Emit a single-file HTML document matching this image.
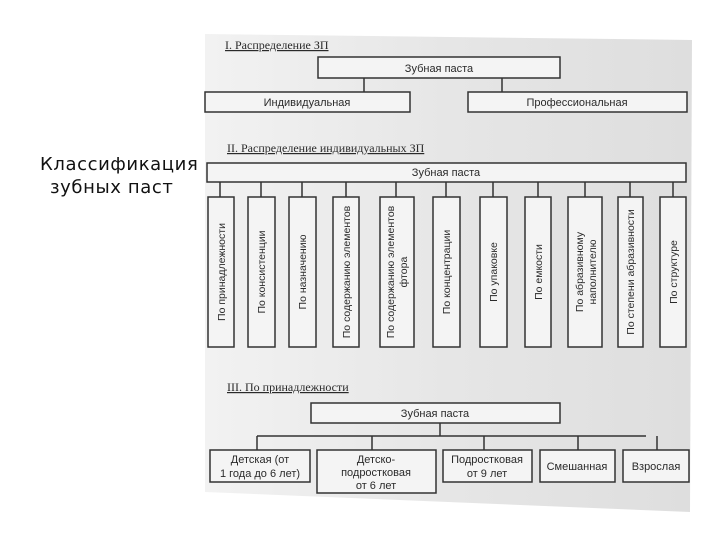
<!DOCTYPE html>
<html><head><meta charset="utf-8"><style>
html,body{margin:0;padding:0;background:#fff;}
svg{display:block}
text{font-family:"Liberation Sans",sans-serif;fill:#2a2a2a;}
.t{font-family:"Liberation Serif",serif;font-size:12px;text-decoration:underline;}
</style></head><body>
<svg width="720" height="540" viewBox="0 0 720 540" xmlns="http://www.w3.org/2000/svg">
<defs>
<linearGradient id="g" x1="0" y1="0" x2="1" y2="0">
<stop offset="0" stop-color="#f2f2f2"/><stop offset="0.5" stop-color="#e6e6e6"/><stop offset="1" stop-color="#dedede"/>
</linearGradient>
</defs>
<polygon points="205,34 692,40 690,512 205,492" fill="url(#g)"/>
<text x="40" y="170" style="font-family:'DejaVu Sans',sans-serif;font-size:18px;letter-spacing:0.6px;fill:#111">Классификация</text>
<text x="50" y="193" style="font-family:'DejaVu Sans',sans-serif;font-size:18px;letter-spacing:0.6px;fill:#111">зубных  паст</text>

<g stroke="#333" stroke-width="1.5" fill="#f4f4f4">
<rect x="318" y="57" width="242" height="21"/>
<rect x="205" y="92" width="205" height="20"/>
<rect x="468" y="92" width="219" height="20"/>
<line x1="364" y1="78" x2="364" y2="92"/>
<line x1="502" y1="78" x2="502" y2="92"/>
<rect x="207" y="163" width="479" height="19"/>
<rect x="208" y="197" width="26" height="150"/>
<rect x="248" y="197" width="27" height="150"/>
<rect x="289" y="197" width="27" height="150"/>
<rect x="333" y="197" width="26" height="150"/>
<rect x="380" y="197" width="34" height="150"/>
<rect x="433" y="197" width="27" height="150"/>
<rect x="480" y="197" width="27" height="150"/>
<rect x="525" y="197" width="26" height="150"/>
<rect x="568" y="197" width="34" height="150"/>
<rect x="618" y="197" width="25" height="150"/>
<rect x="660" y="197" width="26" height="150"/>
<path d="M220 182V197M261 182V197M302 182V197M346 182V197M396 182V197M446 182V197M493 182V197M538 182V197M585 182V197M630 182V197M673 182V197" fill="none"/>
<rect x="311" y="403" width="249" height="20"/>
<path d="M440 423V436M257 436H646M257 436V450M372 436V450M484 436V450M578 436V450M657 436V450" fill="none"/>
<rect x="210" y="450" width="100" height="32"/>
<rect x="317" y="450" width="119" height="43"/>
<rect x="443" y="450" width="89" height="32"/>
<rect x="540" y="450" width="75" height="32"/>
<rect x="623" y="450" width="66" height="32"/>
</g>

<text class="t" x="225" y="49">I. Распределение ЗП</text>
<text class="t" x="227" y="152">II. Распределение индивидуальных ЗП</text>
<text class="t" x="227" y="391">III. По принадлежности</text>

<g font-size="11" text-anchor="middle">
<text x="439" y="72">Зубная паста</text>
<text x="307" y="106">Индивидуальная</text>
<text x="577" y="106">Профессиональная</text>
<text x="446" y="176">Зубная паста</text>
<text x="435" y="417">Зубная паста</text>
<text x="260" y="463">Детская (от</text>
<text x="260" y="477">1 года до 6 лет)</text>
<text x="376" y="463">Детско-</text>
<text x="376" y="476">подростковая</text>
<text x="376" y="489">от 6 лет</text>
<text x="487" y="463">Подростковая</text>
<text x="487" y="477">от 9 лет</text>
<text x="577" y="470">Смешанная</text>
<text x="656" y="470">Взрослая</text>
</g>
<g font-size="10.5" text-anchor="middle">
<text transform="translate(225,272) rotate(-90)">По принадлежности</text>
<text transform="translate(265,272) rotate(-90)">По консистенции</text>
<text transform="translate(306,272) rotate(-90)">По назначению</text>
<text transform="translate(350,272) rotate(-90)">По содержанию элементов</text>
<text transform="translate(394,272) rotate(-90)">По содержанию элементов</text>
<text transform="translate(407,272) rotate(-90)">фтора</text>
<text transform="translate(450,272) rotate(-90)">По концентрации</text>
<text transform="translate(497,272) rotate(-90)">По упаковке</text>
<text transform="translate(542,272) rotate(-90)">По емкости</text>
<text transform="translate(583,272) rotate(-90)">По абразивному</text>
<text transform="translate(596,272) rotate(-90)">наполнителю</text>
<text transform="translate(634,272) rotate(-90)">По степени абразивности</text>
<text transform="translate(677,272) rotate(-90)">По структуре</text>
</g>
</svg>
</body></html>
